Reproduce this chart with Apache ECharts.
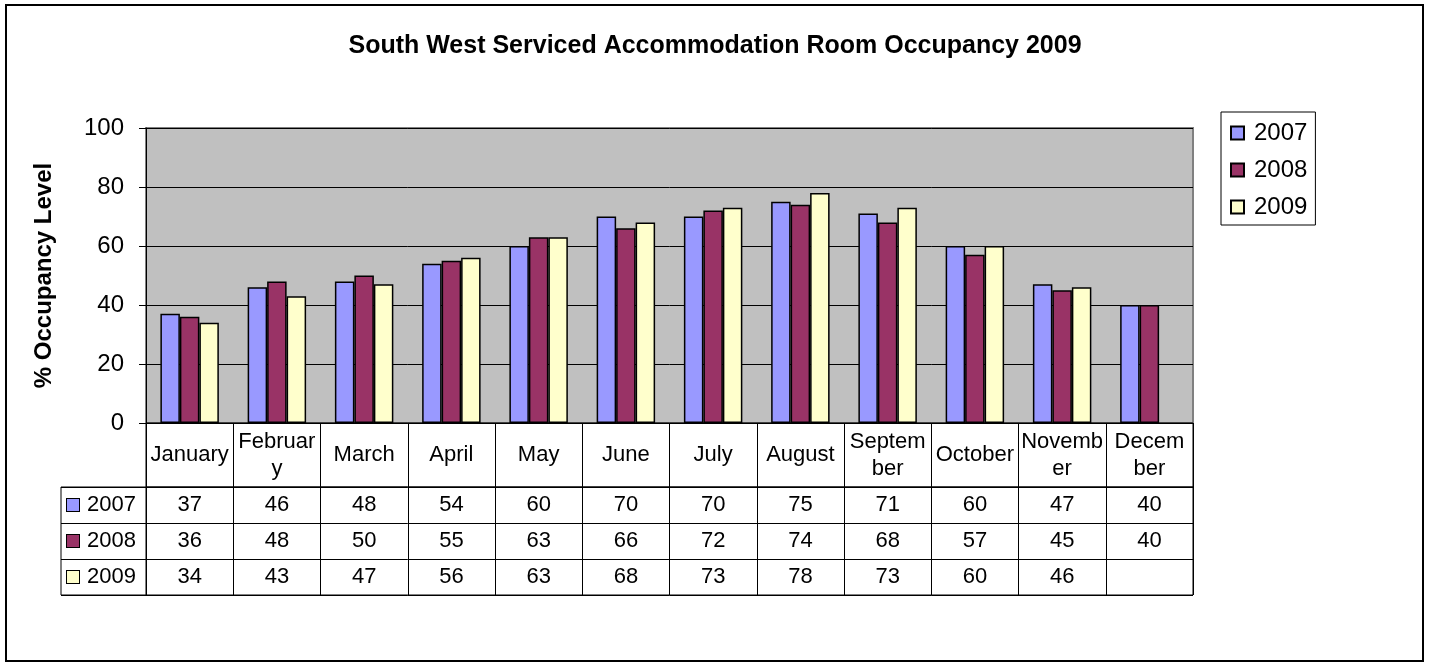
<!DOCTYPE html>
<html>
<head>
<meta charset="utf-8">
<title>South West Serviced Accommodation Room Occupancy 2009</title>
<script src="https://cdn.jsdelivr.net/npm/echarts@6/dist/echarts.min.js"></script>
<style>
  html, body { margin: 0; padding: 0; background: #fff; }
  #chart { width: 1430px; height: 666px; }
</style>
</head>
<body>
<div id="chart"></div>
<script>
// data
const categories = ["January", "February", "March", "April", "May", "June",
  "July", "August", "September", "October", "November", "December"];
// labels as wrapped in the table header cells
const tickLabels = ["January", "Februar\ny", "March", "April", "May", "June",
  "July", "August", "Septem\nber", "October", "Novemb\ner", "Decem\nber"];
const years = ["2007", "2008", "2009"];
const occ2007 = [37, 46, 48, 54, 60, 70, 70, 75, 71, 60, 47, 40];
const occ2008 = [36, 48, 50, 55, 63, 66, 72, 74, 68, 57, 45, 40];
const occ2009 = [34, 43, 47, 56, 63, 68, 73, 78, 73, 60, 46, null];
const yMin = 0, yMax = 100, yStep = 20;

const colors = ["#9999FF", "#993366", "#FFFFCC"];
const rows = [occ2007, occ2008, occ2009];

const chart = echarts.init(document.getElementById("chart"));

// table cells: [month index, year index, value]
const cells = [];
rows.forEach((vals, yi) => {
  vals.forEach((v, mi) => {
    if (v != null) cells.push([mi, yi, v]);
  });
});

const keyRich = {};
colors.forEach((c, i) => {
  keyRich["k" + i] = { width: 12, height: 12, backgroundColor: c, borderColor: "#000", borderWidth: 1 };
});
keyRich.t = { fontSize: 22, color: "#000", padding: [0, 0, 0, 8] };

const blackLine = { color: "#000", width: 1 };

chart.setOption({
  animation: false,
  textStyle: { fontFamily: "Liberation Sans, Arial, sans-serif", color: "#000" },
  title: {
    text: "South West Serviced Accommodation Room Occupancy 2009",
    left: "center",
    top: 29,
    textStyle: { fontSize: 25, fontWeight: "bold", color: "#000" },
  },
  legend: {
    data: years,
    orient: "vertical",
    left: 1221,
    top: 112,
    padding: [9, 8, 6, 9],
    itemGap: 13,
    itemWidth: 13,
    itemHeight: 13,
    icon: "rect",
    borderColor: "#000",
    borderWidth: 1,
    textStyle: { fontSize: 24, color: "#000", padding: [0, 0, 0, 5] },
  },
  grid: [
    // plot area
    { left: 146, top: 128, width: 1047, height: 295, show: true,
      backgroundColor: "#C0C0C0", borderColor: "#808080", borderWidth: 2 },
    // month header row
    { left: 146, top: 423, width: 1047, height: 64, show: true,
      backgroundColor: "#fff", borderColor: "#000", borderWidth: 1 },
    // value cells
    { left: 146, top: 487, width: 1047, height: 108, show: true,
      backgroundColor: "#fff", borderColor: "#000", borderWidth: 1 },
    // legend key column
    { left: 61, top: 487, width: 85, height: 108, show: true,
      backgroundColor: "#fff", borderColor: "#000", borderWidth: 1 },
  ],
  xAxis: [
    { type: "category", gridIndex: 0, data: categories,
      axisLine: { show: true, lineStyle: blackLine },
      axisTick: { show: false }, axisLabel: { show: false }, splitLine: { show: false } },
    { type: "category", gridIndex: 1, data: tickLabels,
      axisLine: { show: false }, axisTick: { show: false },
      axisLabel: { interval: 0, inside: true, margin: 32, verticalAlign: "middle",
        fontSize: 22, lineHeight: 27, color: "#000", align: "center" },
      splitLine: { show: true, interval: 0, lineStyle: blackLine } },
    { type: "category", gridIndex: 2, data: categories,
      axisLine: { show: false }, axisTick: { show: false }, axisLabel: { show: false },
      splitLine: { show: true, interval: 0, lineStyle: blackLine } },
    { type: "value", gridIndex: 3, show: false },
  ],
  yAxis: [
    { type: "value", gridIndex: 0, min: yMin, max: yMax, interval: yStep,
      name: "% Occupancy Level", nameLocation: "middle", nameGap: 90,
      nameTextStyle: { fontSize: 24, fontWeight: "bold", color: "#000" },
      axisLine: { show: true, lineStyle: { color: "#000", width: 1 } },
      axisTick: { show: true, length: 7, lineStyle: blackLine },
      axisLabel: { fontSize: 24, margin: 22, color: "#000" },
      splitLine: { show: true, lineStyle: blackLine } },
    { type: "value", gridIndex: 1, show: false },
    { type: "category", gridIndex: 2, data: years, inverse: true,
      axisLine: { show: false }, axisTick: { show: false }, axisLabel: { show: false },
      splitLine: { show: true, interval: 0, lineStyle: blackLine } },
    { type: "category", gridIndex: 3, data: years, inverse: true,
      axisLine: { show: false }, axisTick: { show: false },
      axisLabel: { inside: true, margin: 6, interval: 0,
        formatter: (v, i) => "{k" + i + "|}{t|" + v + "}", rich: keyRich },
      splitLine: { show: true, interval: 0, lineStyle: blackLine } },
  ],
  series: [
    ...years.map((y, i) => ({
      name: y,
      type: "bar",
      xAxisIndex: 0,
      yAxisIndex: 0,
      data: rows[i],
      barGap: "0%",
      barCategoryGap: "33%",
      itemStyle: { color: colors[i], borderColor: "#000", borderWidth: 1.5 },
    })),
    {
      name: "table",
      type: "scatter",
      xAxisIndex: 2,
      yAxisIndex: 2,
      data: cells,
      symbolSize: 1,
      itemStyle: { color: "transparent" },
      label: { show: true, position: "inside", formatter: (p) => String(p.value[2]),
        fontSize: 22, color: "#000", opacity: 1, textBorderWidth: 0 },
      emphasis: { disabled: true },
      silent: true,
    },
  ],
  graphic: [
    { type: "rect", shape: { x: 6, y: 5, width: 1417, height: 656 },
      style: { fill: "none", stroke: "#000", lineWidth: 2 }, silent: true },
  ],
});
</script>
</body>
</html>
